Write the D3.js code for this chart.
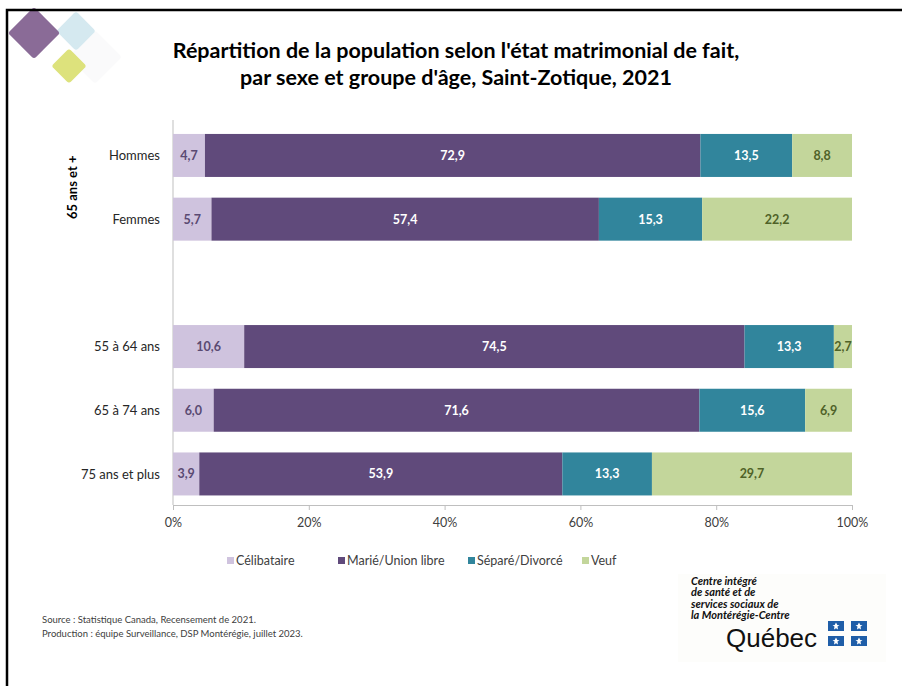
<!DOCTYPE html>
<html>
<head>
<meta charset="utf-8">
<script src="https://cdn.jsdelivr.net/npm/d3@7"></script>
<style>
  body { margin: 0; background: #fff; }
  svg text { font-family: Lato, "Open Sans", sans-serif; }
</style>
</head>
<body>
<div id="chart"></div>
<script>
// Data
const categoryKeys = ['hommes', 'femmes', 'blank', 'a55', 'a65', 'a75'];
const categoryLabels = ['Hommes', 'Femmes', '', '55 à 64 ans', '65 à 74 ans', '75 ans et plus'];
const seriesNames = ['Célibataire', 'Marié/Union libre', 'Séparé/Divorcé', 'Veuf'];
const celibataire = [4.7, 5.7, null, 10.6, 6.0, 3.9];
const marie = [72.9, 57.4, null, 74.5, 71.6, 53.9];
const separe = [13.5, 15.3, null, 13.3, 15.6, 13.3];
const veuf = [8.8, 22.2, null, 2.7, 6.9, 29.7];
const xTicks = [0, 20, 40, 60, 80, 100];

const colors = ['#cfc3de', '#604a7b', '#31859c', '#c3d69b'];
const labelColors = ['#5a4a72', '#ffffff', '#ffffff', '#4f6228'];

function createChart() {
    const W = 902, H = 686;
    const svg = d3.select('#chart').append('svg')
        .attr('width', W)
        .attr('height', H);

    // Decorative diamonds top-left
    const deco = [
        { cx: 95, cy: 57, s: 38, fill: '#fafafb' },
        { cx: 76, cy: 31, s: 28, fill: '#d5e9f0' },
        { cx: 34, cy: 33, s: 37, fill: '#8a6b97' },
        { cx: 69, cy: 66, s: 25, fill: '#dde27c' }
    ];
    svg.selectAll('.deco')
        .data(deco)
        .enter()
        .append('rect')
        .attr('x', d => -d.s / 2)
        .attr('y', d => -d.s / 2)
        .attr('width', d => d.s)
        .attr('height', d => d.s)
        .attr('rx', 3)
        .attr('fill', d => d.fill)
        .attr('transform', d => `translate(${d.cx},${d.cy}) rotate(45)`);

    // Frame (top and left edges visible)
    svg.append('path')
        .attr('d', `M7,${H} V10 H${W}`)
        .attr('fill', 'none')
        .attr('stroke', '#000')
        .attr('stroke-width', 2.5);

    // Title
    const title = svg.append('text')
        .attr('text-anchor', 'middle')
        .style('font-size', '21.5px')
        .style('font-weight', '700')
        .style('fill', '#000');
    title.append('tspan').attr('x', 456).attr('y', 58)
        .text("Répartition de la population selon l'état matrimonial de fait,");
    title.append('tspan').attr('x', 456).attr('y', 85)
        .text("par sexe et groupe d'âge, Saint-Zotique, 2021");

    // Scales
    const x = d3.scaleLinear()
        .domain([0, 100])
        .range([173, 852]);

    const y = d3.scaleBand()
        .domain(categoryKeys)
        .range([123.6, 505.8])
        .paddingInner(0.325)
        .paddingOuter(0.1625);

    // Build rows, normalised to 100% like a 100% stacked bar
    const rows = categoryKeys.map((k, i) => ({
        key: k,
        vals: [celibataire[i], marie[i], separe[i], veuf[i]]
    })).filter(r => r.vals[0] !== null);

    rows.forEach(r => {
        const total = d3.sum(r.vals);
        let acc = 0;
        r.segs = r.vals.map((v, j) => {
            const s = { key: r.key, j, v, x0: acc / total * 100, x1: (acc + v) / total * 100 };
            acc += v;
            return s;
        });
    });

    // Vertical axis line
    svg.append('line')
        .attr('x1', x(0)).attr('x2', x(0))
        .attr('y1', 120).attr('y2', 505)
        .attr('stroke', '#bfbfbf');

    // Bars
    const segs = rows.flatMap(r => r.segs);
    svg.selectAll('.seg')
        .data(segs)
        .enter()
        .append('rect')
        .attr('class', 'seg')
        .attr('x', d => x(d.x0))
        .attr('y', d => y(d.key))
        .attr('width', d => x(d.x1) - x(d.x0))
        .attr('height', y.bandwidth())
        .attr('fill', d => colors[d.j]);

    // Bar labels
    svg.selectAll('.seg-label')
        .data(segs)
        .enter()
        .append('text')
        .attr('x', d => (x(d.x0) + x(d.x1)) / 2)
        .attr('y', d => y(d.key) + y.bandwidth() / 2)
        .attr('dy', '0.35em')
        .attr('text-anchor', 'middle')
        .style('font-size', '12.5px')
        .style('font-weight', '700')
        .style('fill', d => labelColors[d.j])
        .text(d => d3.format('.1f')(d.v).replace('.', ','));

    // X axis
    const xAxis = svg.append('g')
        .attr('transform', 'translate(0,505)')
        .call(d3.axisBottom(x)
            .tickValues(xTicks)
            .tickSize(5)
            .tickFormat(d => d + '%'));
    xAxis.select('.domain').attr('stroke', '#bfbfbf');
    xAxis.selectAll('.tick line').attr('stroke', '#bfbfbf');
    xAxis.selectAll('.tick text')
        .attr('y', 13)
        .style('font-family', 'Lato, sans-serif')
        .style('font-size', '12.5px')
        .style('fill', '#404040');

    // Category labels
    svg.selectAll('.cat-label')
        .data(categoryKeys.map((k, i) => ({ k, label: categoryLabels[i] })).filter(d => d.label))
        .enter()
        .append('text')
        .attr('x', 160)
        .attr('y', d => y(d.k) + y.bandwidth() / 2)
        .attr('dy', '0.35em')
        .attr('text-anchor', 'end')
        .style('font-size', '13px')
        .style('fill', '#262626')
        .text(d => d.label);

    // Group label
    svg.append('text')
        .attr('transform', `translate(77,${(y('hommes') + y('femmes') + y.bandwidth()) / 2}) rotate(-90)`)
        .attr('text-anchor', 'middle')
        .style('font-size', '13px')
        .style('font-weight', '700')
        .style('fill', '#000')
        .text('65 ans et +');

    // Legend
    const legendX = [227, 338, 468, 582];
    const legend = svg.selectAll('.legend')
        .data(seriesNames)
        .enter()
        .append('g')
        .attr('transform', (d, i) => `translate(${legendX[i]},561)`);
    legend.append('rect')
        .attr('x', 0).attr('y', -4)
        .attr('width', 7).attr('height', 7)
        .attr('fill', (d, i) => colors[i]);
    legend.append('text')
        .attr('x', 9)
        .attr('dy', '0.35em')
        .style('font-size', '12.5px')
        .style('fill', '#404040')
        .text(d => d);

    // Source notes
    const src = svg.append('text')
        .style('font-size', '9.5px')
        .style('fill', '#404040');
    src.append('tspan').attr('x', 42).attr('y', 623)
        .text('Source : Statistique Canada, Recensement de 2021.');
    src.append('tspan').attr('x', 42).attr('y', 637)
        .text('Production : équipe Surveillance, DSP Montérégie, juillet 2023.');

    // Logo block
    const logo = svg.append('g');
    logo.append('rect')
        .attr('x', 678).attr('y', 574)
        .attr('width', 208).attr('height', 88)
        .attr('fill', '#fdfdfb');
    const logoLines = ['Centre intégré', 'de santé et de', 'services sociaux de', 'la Montérégie-Centre'];
    logo.selectAll('.logo-line')
        .data(logoLines)
        .enter()
        .append('text')
        .attr('x', 691)
        .attr('y', (d, i) => 585 + i * 11.3)
        .style('font-size', '11px')
        .style('font-weight', '700')
        .style('font-style', 'italic')
        .style('fill', '#111')
        .text(d => d);
    logo.append('text')
        .attr('x', 726)
        .attr('y', 647)
        .style('font-family', '"Liberation Sans", Arial, sans-serif')
        .style('font-size', '26px')
        .style('fill', '#111')
        .text('Québec');
    const flags = [[828, 621], [851, 621], [828, 636], [851, 636]];
    const fl = logo.selectAll('.flag')
        .data(flags)
        .enter()
        .append('g')
        .attr('transform', d => `translate(${d[0]},${d[1]})`);
    fl.append('rect')
        .attr('width', 16).attr('height', 10)
        .attr('fill', '#1f5ea8');
    fl.append('path')
        .attr('d', 'M8,1.5 L9.3,4 L11.5,4.3 L9.5,5.6 L10,8.5 L8,7.2 L6,8.5 L6.5,5.6 L4.5,4.3 L6.7,4 Z')
        .attr('fill', '#fff');
}

createChart();
</script>
</body>
</html>
